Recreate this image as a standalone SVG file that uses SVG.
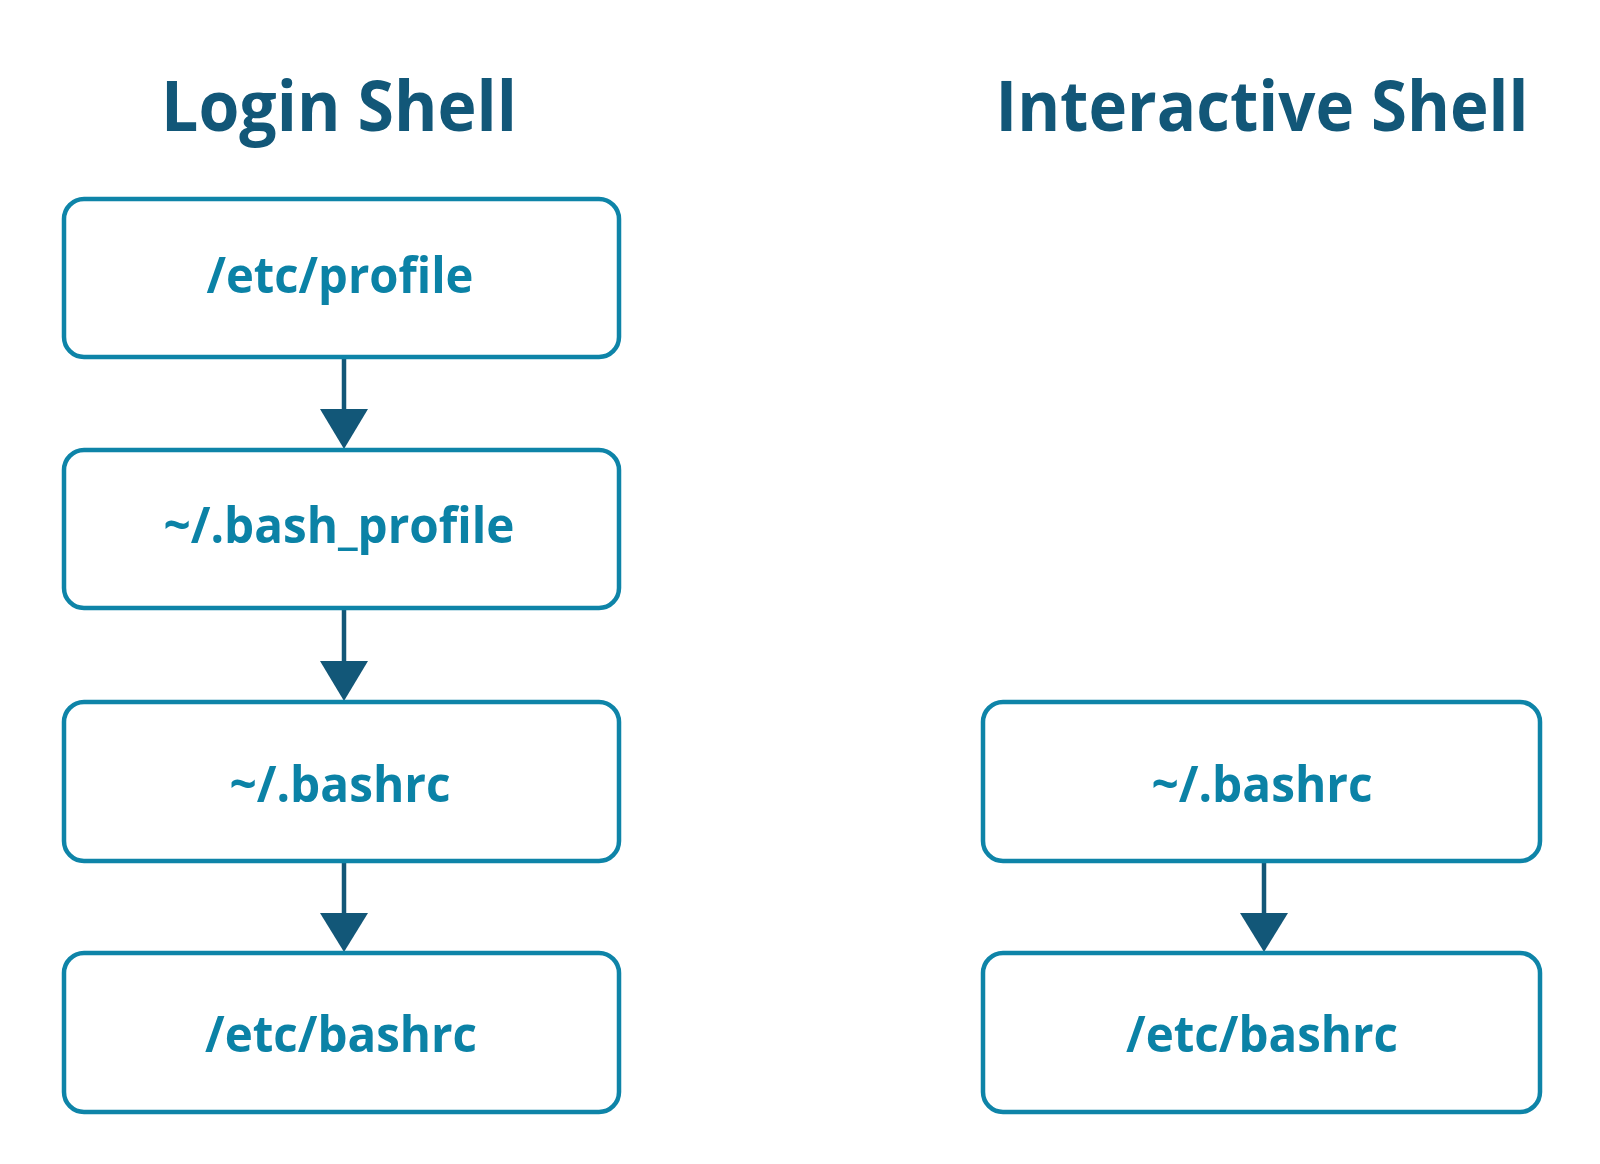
<svg xmlns="http://www.w3.org/2000/svg" width="1600" height="1164" viewBox="0 0 1600 1164">
<style>
.title{font-family:"Open Sans","Noto Sans","Liberation Sans",sans-serif;font-weight:700;font-size:70px;fill:#125778;text-anchor:middle}
.box{fill:#ffffff;stroke:#0E84A8;stroke-width:4.5}
.lbl{font-family:"Open Sans","Noto Sans","Liberation Sans",sans-serif;font-weight:700;font-size:50px;fill:#0B82A6;text-anchor:middle}
.line{stroke:#125778;stroke-width:4.5;fill:none}
.head{fill:#125778}
</style>
<rect width="1600" height="1164" fill="#ffffff"/>
<text id="title-login" class="title" x="339" y="131" textLength="356" lengthAdjust="spacingAndGlyphs">Login Shell</text>
<text id="title-interactive" class="title" x="1262" y="131" textLength="533" lengthAdjust="spacingAndGlyphs">Interactive Shell</text>
<g id="connectors">
<line class="line" x1="344" y1="357" x2="344" y2="412"/>
<polygon class="head" points="320,409 368,409 344,449"/>
<line class="line" x1="344" y1="608" x2="344" y2="664"/>
<polygon class="head" points="320,661 368,661 344,701"/>
<line class="line" x1="344" y1="861" x2="344" y2="916"/>
<polygon class="head" points="320,913 368,913 344,952"/>
<line class="line" x1="1264" y1="861" x2="1264" y2="916"/>
<polygon class="head" points="1240,913 1288,913 1264,952"/>
</g>
<g id="node-etc-profile">
<rect class="box" x="64" y="199" width="555" height="158" rx="20"/>
<text class="lbl" x="340" y="293" textLength="267" lengthAdjust="spacingAndGlyphs">/etc/profile</text>
</g>
<g id="node-bash-profile">
<rect class="box" x="64" y="450" width="555" height="158" rx="20"/>
<text class="lbl" x="339" y="543" textLength="351" lengthAdjust="spacingAndGlyphs">~/.bash_profile</text>
</g>
<g id="node-bashrc-login">
<rect class="box" x="64" y="702" width="555" height="159" rx="20"/>
<text class="lbl" x="340" y="802" textLength="221" lengthAdjust="spacingAndGlyphs">~/.bashrc</text>
</g>
<g id="node-etc-bashrc-login">
<rect class="box" x="64" y="953" width="555" height="159" rx="20"/>
<text class="lbl" x="341" y="1052" textLength="272" lengthAdjust="spacingAndGlyphs">/etc/bashrc</text>
</g>
<g id="node-bashrc-interactive">
<rect class="box" x="983" y="702" width="557" height="159" rx="20"/>
<text class="lbl" x="1262" y="802" textLength="221" lengthAdjust="spacingAndGlyphs">~/.bashrc</text>
</g>
<g id="node-etc-bashrc-interactive">
<rect class="box" x="983" y="953" width="557" height="159" rx="20"/>
<text class="lbl" x="1262" y="1052" textLength="272" lengthAdjust="spacingAndGlyphs">/etc/bashrc</text>
</g>
</svg>
